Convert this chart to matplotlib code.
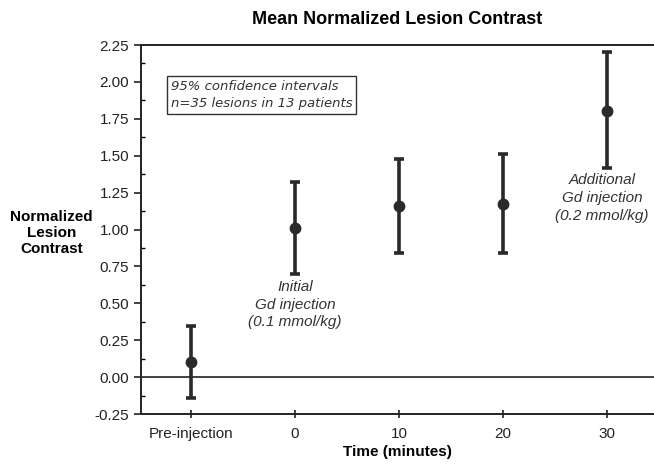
import matplotlib.pyplot as plt
from matplotlib.ticker import MultipleLocator

plt.rcParams['font.family'] = ['Liberation Sans', 'DejaVu Sans']

# data
time_labels = ['Pre-injection', '0', '10', '20', '30']
mean_contrast = [0.10, 1.01, 1.16, 1.17, 1.80]
ci_low = [-0.14, 0.70, 0.84, 0.84, 1.42]
ci_high = [0.35, 1.32, 1.48, 1.51, 2.20]

x = list(range(len(time_labels)))
err_lo = [m - lo for m, lo in zip(mean_contrast, ci_low)]
err_hi = [hi - m for m, hi in zip(mean_contrast, ci_high)]

fig = plt.figure(figsize=(6.54, 4.69), dpi=100)
ax = fig.add_axes([0.2156, 0.117, 0.7844, 0.787])

ax.axhline(0, color='#222222', lw=1.2, zorder=1)
ax.errorbar(x, mean_contrast, yerr=[err_lo, err_hi], fmt='o', color='#2a2a2a',
            ms=7.5, elinewidth=2.6, capsize=3.5, capthick=2.6, zorder=3)

ax.set_xlim(-0.48, 4.45)
ax.set_ylim(-0.25, 2.25)
ax.yaxis.set_minor_locator(MultipleLocator(0.125))
yt = [i * 0.25 - 0.25 for i in range(11)]
ax.set_yticks(yt)
ax.set_yticklabels(['%.2f' % v for v in yt])
ax.set_xticks(x)
ax.set_xticklabels(time_labels)
ax.tick_params(axis='y', direction='out', length=5, width=1.2, labelsize=11, colors='#222222')
ax.tick_params(axis='y', which='minor', direction='in', length=3, width=1)
ax.tick_params(axis='x', direction='inout', length=6, width=1.2, labelsize=11, colors='#222222', pad=6)

for side in ['left', 'bottom', 'top']:
    ax.spines[side].set_linewidth(1.4)
    ax.spines[side].set_color('#222222')
ax.spines['right'].set_visible(False)

ax.set_title('Mean Normalized Lesion Contrast', fontsize=13, fontweight='bold', pad=15)
ax.set_xlabel('Time (minutes)', fontsize=11, fontweight='bold', labelpad=3)
ax.set_ylabel('Normalized\nLesion\nContrast', fontsize=11, fontweight='bold',
              rotation=0, ha='center', va='center', labelpad=0)
ax.yaxis.set_label_coords(-0.175, 0.49)

ax.text(0.058, 0.905, '95% confidence intervals\nn=35 lesions in 13 patients',
        transform=ax.transAxes, fontsize=9.5, style='italic', color='#333333',
        family='DejaVu Sans', va='top', ha='left', linespacing=1.4,
        bbox=dict(boxstyle='square,pad=0.3', fc='white', ec='#333333', lw=1))

ax.text(1, 0.66, 'Initial\nGd injection\n(0.1 mmol/kg)', fontsize=11, style='italic',
        color='#333333', ha='center', va='top', linespacing=1.35)
ax.text(3.95, 1.38, 'Additional\nGd injection\n(0.2 mmol/kg)', fontsize=11, style='italic',
        color='#333333', ha='center', va='top', linespacing=1.35)

fig.savefig('out.png', dpi=100)
